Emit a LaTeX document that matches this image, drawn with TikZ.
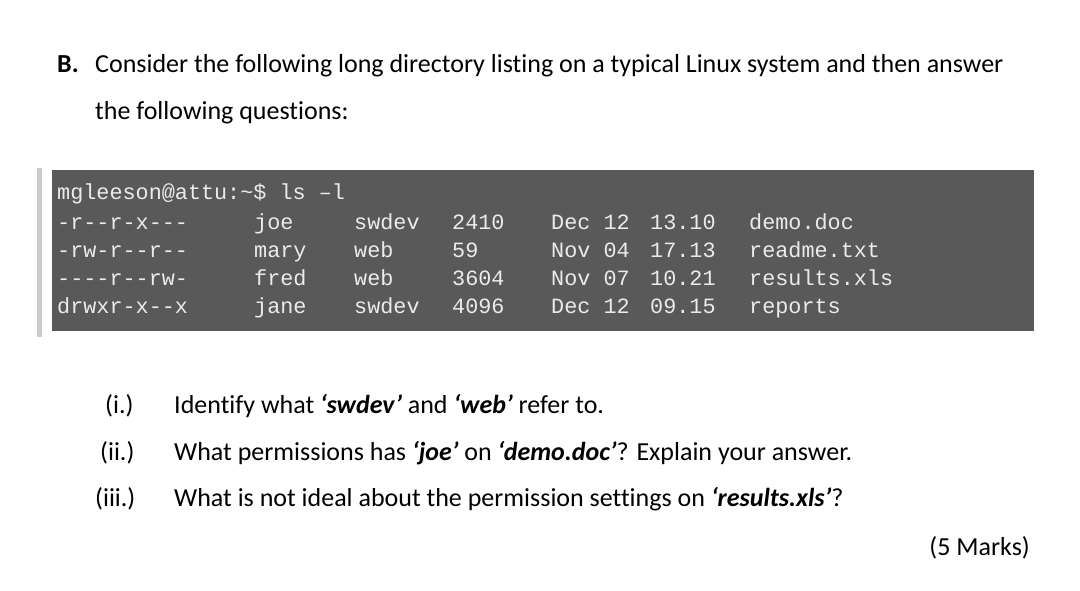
\documentclass[tikz,border=0pt]{standalone}
\usepackage{fontspec}
\setmainfont[Ligatures={NoCommon}]{Carlito}
\setmonofont{Liberation Mono}
\begin{document}
\begin{tikzpicture}[x=1pt,y=-1pt,
  txt/.style={anchor=base west,inner sep=0pt,font=\fontsize{26}{28}\selectfont},
  mono/.style={anchor=base west,inner sep=0pt,text=white!92!black,font=\ttfamily\fontsize{21.8}{24}\selectfont}]
\useasboundingbox[fill=white] (0,0) rectangle (1080,590);
\fill[black!20] (37,168) rectangle (42,337);
\fill[black!65] (52,170) rectangle (1034,331);
\node[txt,font=\bfseries\fontsize{26}{28}\selectfont] (b) at (57,72) {B.};
\node[txt] (l1) at (95,72) {Consider the following long directory listing on a typical Linux system and then answer};
\node[txt] (l2) at (95,119) {the following questions:};
\node[mono] (cmd) at (57,199) {mgleeson@attu:\textasciitilde\$ ls –l};
\foreach \y/\a/\b/\c/\d/\e/\f/\g [count=\i] in {
  229/-r{}-{}-r-x{}-{}-{}-/joe/swdev/2410/Dec 12/13.10/demo.doc,
  257/-rw-r{}-{}-r{}-{}-/mary/web/59/Nov 04/17.13/readme.txt,
  285/-{}-{}-{}-r{}-{}-rw-/fred/web/3604/Nov 07/10.21/results.xls,
  313/drwxr-x{}-{}-x/jane/swdev/4096/Dec 12/09.15/reports}{
  \node[mono] (p\i) at (57,\y) {\a};
  \node[mono] (u\i) at (254,\y) {\b};
  \node[mono] (g\i) at (354,\y) {\c};
  \node[mono] (s\i) at (452,\y) {\d};
  \node[mono] (d\i) at (551,\y) {\e};
  \node[mono] (t\i) at (650,\y) {\f};
  \node[mono] (n\i) at (749,\y) {\g};
}
\node[txt] (q1n) at (105,413) {(i.)};
\node[txt] (q1) at (174,413) {Identify what \textbf{\textit{‘swdev’}} and \textbf{\textit{‘web’}} refer to.};
\node[txt] (q2n) at (100,460) {(ii.)};
\node[txt] (q2) at (174,460) {What permissions has \textbf{\textit{‘joe’}} on \textbf{\textit{‘demo.doc’}}? Explain your answer.};
\node[txt] (q3n) at (95,506) {(iii.)};
\node[txt] (q3) at (174,506) {What is not ideal about the permission settings on \textbf{\textit{‘results.xls’}}?};
\node[txt,anchor=base east] (m) at (1030,555) {(5 Marks)};
\end{tikzpicture}
\end{document}
